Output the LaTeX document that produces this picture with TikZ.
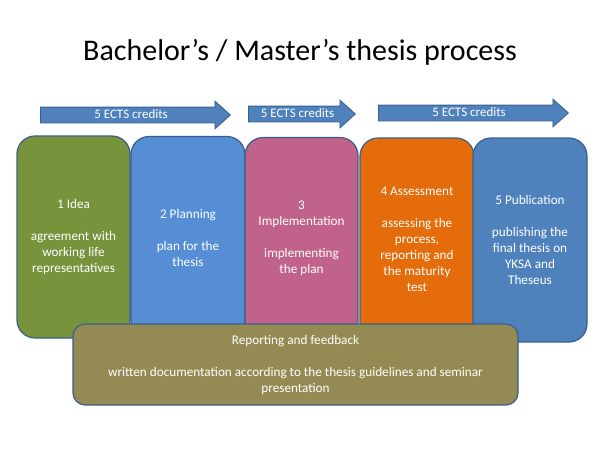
\documentclass[tikz,border=0pt]{standalone}
\usepackage{fontspec}
\setmainfont{Carlito}
\usetikzlibrary{shapes.arrows}

\definecolor{edgeblue}{HTML}{3A5F8C}
\definecolor{arrowblue}{HTML}{4F81BD}
\definecolor{ideagreen}{HTML}{77933C}
\definecolor{planblue}{HTML}{558ED5}
\definecolor{implpink}{HTML}{C0628A}
\definecolor{assessorange}{HTML}{E46C0A}
\definecolor{pubblue}{HTML}{4F81BD}
\definecolor{reportolive}{HTML}{948A54}

\tikzset{
  stage/.style={draw=edgeblue,line width=1.2pt,rounded corners=18pt,
    minimum width=114pt,minimum height=202pt,text=white,align=center,
    font=\fontsize{13.2}{16}\selectfont},
  ects/.style={single arrow,draw=edgeblue,fill=arrowblue,line width=0.8pt,
    single arrow head extend=6pt,single arrow tip angle=84,
    text=white,font=\fontsize{13}{14}\selectfont,
    text height=8pt,text depth=1pt,inner ysep=3pt,inner xsep=0pt,anchor=tail}
}

\begin{document}
\begin{tikzpicture}[x=1pt,y=-1pt]
\useasboundingbox (0,0) rectangle (600,450);
\node[font=\fontsize{30}{36}\selectfont] (title) at (300,52) {Bachelor’s / Master’s thesis process};

% credits
\node[ects,minimum height=190pt] (c1) at (40,115) {5 ECTS credits};
\node[ects,minimum height=107pt] (c2) at (248,114) {5 ECTS credits};
\node[ects,minimum height=190pt] (c3) at (378,113) {5 ECTS credits};

% stages
\node[stage,fill=ideagreen,minimum width=113pt] (idea) at (73.5,237)
  {1 Idea\\[16pt]agreement with\\working life\\representatives};
\node[stage,fill=planblue] (plan) at (188,237.5)
  {2 Planning\\[16pt]plan for the\\thesis};
\node[stage,fill=implpink,minimum width=113pt] (impl) at (301.5,238.5)
  {3\\Implementation\\[16pt]implementing\\the plan};
\node[stage,fill=assessorange] (assess) at (417,239)
  {4 Assessment\\[16pt]assessing the\\process,\\reporting and\\the maturity\\test};
\node[stage,fill=pubblue,minimum height=204pt] (pub) at (530,240)
  {5 Publication\\[16pt]publishing the\\final thesis on\\YKSA and\\Theseus};

% reporting
\node[stage,fill=reportolive,rounded corners=12pt,minimum width=445pt,
  minimum height=81pt] (report) at (295.5,364.5)
  {Reporting and feedback\\[16pt]written documentation according to the thesis guidelines and seminar\\presentation};
\end{tikzpicture}
\end{document}
